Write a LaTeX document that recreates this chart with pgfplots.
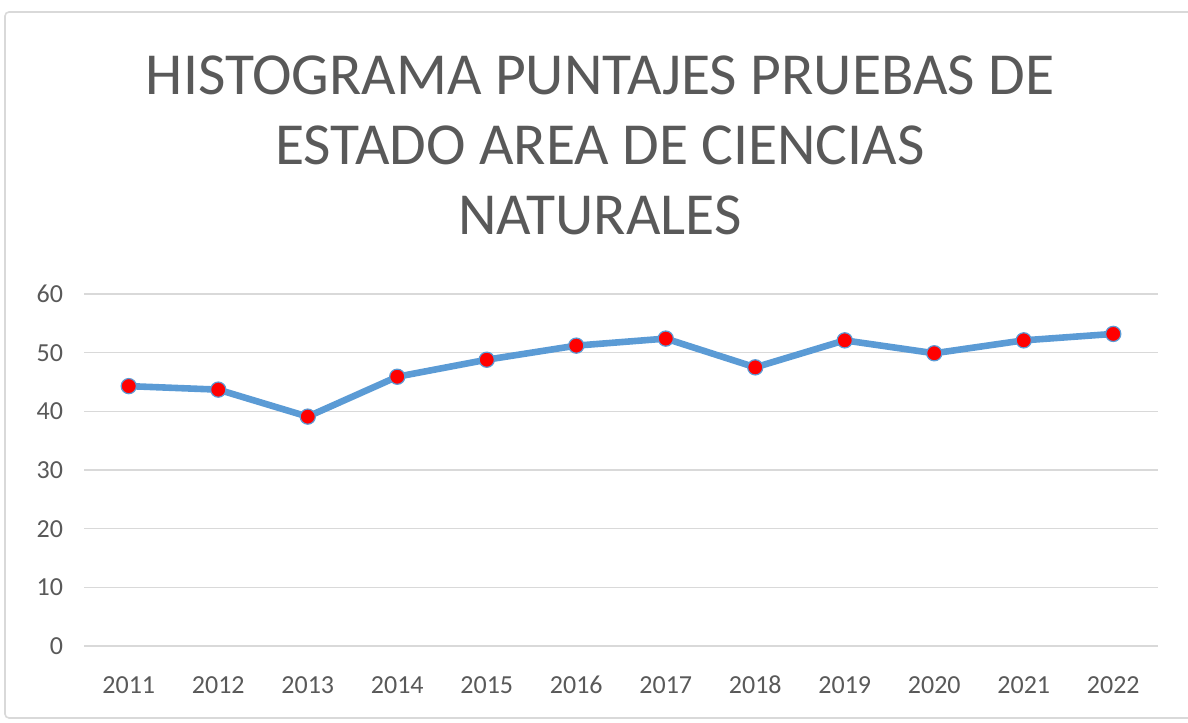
\documentclass[border=0pt]{standalone}
\usepackage{fontspec}
\setmainfont{Carlito}
\usepackage{pgfplots}
\pgfplotsset{compat=1.18}
\definecolor{txtgray}{HTML}{595959}
\definecolor{gridgray}{HTML}{D9D9D9}
\definecolor{xlblue}{HTML}{5B9BD5}
\begin{document}
\begin{tikzpicture}
\useasboundingbox (0,0) rectangle (594bp,361.5bp);
\draw[gridgray, line width=0.8bp, rounded corners=2bp] (2.5bp,2.5bp) rectangle (600bp,355.5bp);
\node[text=txtgray, align=center, font=\fontsize{29.8bp}{35bp}\selectfont] at (300bp,289bp)
  {HISTOGRAMA PUNTAJES PRUEBAS DE\\ESTADO AREA DE CIENCIAS\\NATURALES};
\begin{axis}[
  at={(42bp,38.5bp)}, anchor=south west,
  scale only axis, width=537bp, height=176bp,
  xmin=-0.5, xmax=11.5, ymin=0, ymax=60,
  axis line style={draw=none},
  xtick={0,...,11},
  xticklabels={2011,2012,2013,2014,2015,2016,2017,2018,2019,2020,2021,2022},
  ytick={0,10,...,60},
  ymajorgrids, grid style={gridgray, line width=0.8bp},
  major tick length=0pt,
  tick label style={text=txtgray, font=\fontsize{13bp}{15bp}\selectfont},
  /pgf/number format/assume math mode=true,
  yticklabel style={xshift=-7bp},
  xticklabel style={anchor=north, text height=9bp, text depth=0pt, yshift=-11bp},
  clip=false,
]
\addplot[xlblue, line width=3.3bp, mark=*, mark size=3.8bp,
  mark options={fill=red, draw=xlblue, line width=0.6bp}]
  coordinates {(0,44.3) (1,43.7) (2,39.1) (3,45.9) (4,48.8) (5,51.2) (6,52.4) (7,47.5) (8,52.1) (9,49.9) (10,52.1) (11,53.2)};
\end{axis}
\end{tikzpicture}
\end{document}
